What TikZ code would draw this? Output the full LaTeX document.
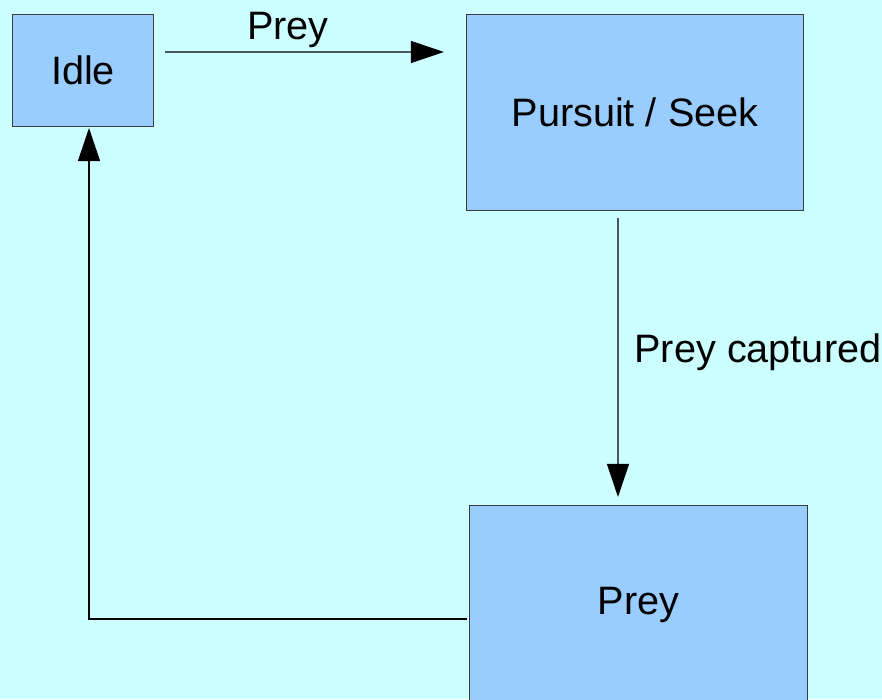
\documentclass[tikz,border=0pt]{standalone}
\usepackage{fontspec}
\setmainfont{Liberation Sans}
\definecolor{bgcyan}{RGB}{204, 255, 255}
\definecolor{boxblue}{RGB}{153, 204, 255}
\definecolor{edgegray}{RGB}{60, 60, 60}
\usetikzlibrary{arrows.meta, positioning}

\tikzset{
  state/.style={draw=edgegray, fill=boxblue, line width=0.7pt, inner sep=0pt, outer sep=0pt,
    font=\fontsize{28.2pt}{34pt}\selectfont},
  trans/.style={line width=0.75pt, -{Triangle[length=0.825cm, width=0.55cm]}},
  translabel/.style={font=\fontsize{28.2pt}{34pt}\selectfont, inner sep=0pt}
}

\begin{document}
\begin{tikzpicture}[x=0.025cm, y=-0.025cm]
  % Canvas
  \useasboundingbox (0, 0) rectangle (882, 699);
  \clip (0, 0) rectangle (882, 699);
  \fill[bgcyan] (0, 0) rectangle (882, 699);

  % States
  \node[state, minimum width=3.5cm, minimum height=2.775cm] (idle) at (83, 70.5) {Idle};
  \node[state, minimum width=8.4cm, minimum height=4.875cm] (seek) at (635, 112.5) {Pursuit / Seek};
  \node[state, minimum width=8.425cm, minimum height=4.95cm] (prey) at (638.5, 605) {Prey};

  % Transitions
  \draw[trans, shorten <=0.3cm, shorten >=0.575cm]
    ([yshift=-0.925cm]idle.north east) -- ([yshift=-0.925cm]seek.north west)
    node[translabel, pos=0.43, anchor=base, yshift=0.3cm] (lblprey) {Prey};
  \draw[trans, shorten <=0.2cm, shorten >=0.225cm]
    ([xshift=-0.425cm]seek.south) -- ([xshift=-0.5125cm]prey.north)
    node[translabel, pos=0.516, anchor=base west, xshift=0.4cm] (lblcapt) {Prey captured};
  \draw[trans, shorten <=0.075cm, shorten >=0.05cm]
    ([yshift=-0.35cm]prey.west) -| ([xshift=0.15cm]idle.south);
\end{tikzpicture}
\end{document}
